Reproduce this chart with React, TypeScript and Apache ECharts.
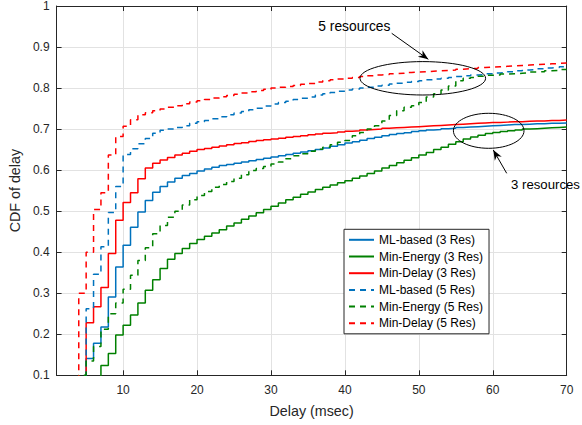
import React, { useEffect, useRef } from "react";
import * as echarts from "echarts";

const FONT = "'Liberation Sans', Arial, Helvetica, sans-serif";

// Delay values (msec), one CDF step per integer delay from 3 to 70
const delays: number[] = Array.from({ length: 68 }, (_, i) => i + 3);

const xTicks = [10, 20, 30, 40, 50, 60, 70];

const seriesNames = [
  "ML-based (3 Res)",
  "Min-Energy (3 Res)",
  "Min-Delay (3 Res)",
  "ML-based (5 Res)",
  "Min-Energy (5 Res)",
  "Min-Delay (5 Res)",
];

const mlBased3 = [
  0.05, 0.05, 0.141, 0.178, 0.218, 0.291, 0.364, 0.417, 0.461, 0.498,
  0.526, 0.546, 0.560, 0.571, 0.580, 0.587, 0.592, 0.598, 0.603, 0.607,
  0.611, 0.614, 0.617, 0.620, 0.623, 0.626, 0.629, 0.632, 0.635, 0.638,
  0.641, 0.644, 0.647, 0.650, 0.654, 0.658, 0.662, 0.666, 0.669, 0.673,
  0.677, 0.680, 0.684, 0.687, 0.689, 0.691, 0.694, 0.696, 0.698, 0.699,
  0.701, 0.702, 0.704, 0.705, 0.706, 0.707, 0.708, 0.709, 0.710, 0.711,
  0.711, 0.712, 0.713, 0.713, 0.714, 0.714, 0.715, 0.715,
];

const minEnergy3 = [
  0.05, 0.05, 0.05, 0.05, 0.124, 0.153, 0.198, 0.222, 0.247, 0.276,
  0.307, 0.333, 0.360, 0.383, 0.397, 0.409, 0.421, 0.431, 0.439, 0.447,
  0.455, 0.464, 0.471, 0.480, 0.488, 0.496, 0.504, 0.512, 0.520, 0.528,
  0.534, 0.541, 0.547, 0.553, 0.558, 0.564, 0.569, 0.574, 0.580, 0.586,
  0.592, 0.598, 0.605, 0.611, 0.618, 0.624, 0.630, 0.637, 0.643, 0.650,
  0.656, 0.663, 0.669, 0.676, 0.681, 0.685, 0.689, 0.692, 0.694, 0.696,
  0.698, 0.700, 0.701, 0.702, 0.703, 0.704, 0.705, 0.706,
];

const minDelay3 = [
  0.05, 0.05, 0.228, 0.267, 0.314, 0.397, 0.478, 0.521, 0.545, 0.579,
  0.605, 0.617, 0.625, 0.631, 0.637, 0.641, 0.646, 0.650, 0.653, 0.656,
  0.659, 0.662, 0.665, 0.667, 0.670, 0.672, 0.674, 0.676, 0.678, 0.680,
  0.682, 0.684, 0.686, 0.688, 0.690, 0.691, 0.693, 0.695, 0.696, 0.698,
  0.699, 0.700, 0.702, 0.703, 0.704, 0.705, 0.706, 0.707, 0.708, 0.709,
  0.710, 0.711, 0.712, 0.713, 0.714, 0.715, 0.716, 0.716, 0.717, 0.718,
  0.718, 0.719, 0.720, 0.720, 0.721, 0.721, 0.722, 0.722,
];

const mlBased5 = [
  0.05, 0.05, 0.262, 0.346, 0.413, 0.497, 0.560, 0.638, 0.652, 0.664,
  0.677, 0.690, 0.697, 0.700, 0.704, 0.708, 0.714, 0.718, 0.721, 0.725,
  0.730, 0.735, 0.739, 0.743, 0.747, 0.751, 0.756, 0.761, 0.765, 0.768,
  0.772, 0.775, 0.778, 0.783, 0.786, 0.789, 0.792, 0.795, 0.798, 0.800,
  0.802, 0.805, 0.807, 0.810, 0.812, 0.814, 0.816, 0.818, 0.820, 0.822,
  0.824, 0.826, 0.828, 0.830, 0.832, 0.833, 0.835, 0.837, 0.838, 0.840,
  0.842, 0.844, 0.845, 0.847, 0.849, 0.850, 0.852, 0.853,
];

const minEnergy5 = [
  0.05, 0.10, 0.135, 0.170, 0.212, 0.250, 0.276, 0.310, 0.344, 0.380,
  0.411, 0.445, 0.465, 0.485, 0.500, 0.515, 0.528, 0.538, 0.548, 0.558,
  0.565, 0.572, 0.580, 0.589, 0.599, 0.604, 0.609, 0.615, 0.620, 0.628,
  0.635, 0.640, 0.646, 0.651, 0.656, 0.662, 0.668, 0.672, 0.684, 0.692,
  0.700, 0.708, 0.720, 0.733, 0.745, 0.753, 0.757, 0.765, 0.778, 0.786,
  0.795, 0.805, 0.818, 0.824, 0.826, 0.829, 0.831, 0.832, 0.834, 0.835,
  0.836, 0.837, 0.839, 0.840, 0.842, 0.843, 0.845, 0.846,
];

const minDelay5 = [
  0.05, 0.30, 0.40, 0.504, 0.545, 0.637, 0.682, 0.707, 0.723, 0.735,
  0.740, 0.745, 0.749, 0.753, 0.757, 0.762, 0.766, 0.769, 0.772, 0.776,
  0.779, 0.782, 0.785, 0.788, 0.791, 0.794, 0.797, 0.800, 0.802, 0.804,
  0.806, 0.809, 0.811, 0.815, 0.818, 0.820, 0.822, 0.824, 0.826, 0.828,
  0.830, 0.832, 0.833, 0.835, 0.836, 0.838, 0.839, 0.840, 0.841, 0.842,
  0.843, 0.844, 0.846, 0.847, 0.848, 0.850, 0.851, 0.852, 0.853, 0.854,
  0.855, 0.856, 0.857, 0.858, 0.859, 0.860, 0.861, 0.862,
];

const seriesValues = [mlBased3, minEnergy3, minDelay3, mlBased5, minEnergy5, minDelay5];
const seriesColors = ["#0072BD", "#008000", "#FF0000", "#0072BD", "#008000", "#FF0000"];
const seriesDashed = [false, false, false, true, true, true];

function arrowHead(x1: number, y1: number, x2: number, y2: number, len = 10, half = 4) {
  const dx = x2 - x1;
  const dy = y2 - y1;
  const l = Math.sqrt(dx * dx + dy * dy);
  const ux = dx / l;
  const uy = dy / l;
  const nx = -uy;
  const ny = ux;
  const bx = x2 - len * ux;
  const by = y2 - len * uy;
  const mx = x2 - len * 0.7 * ux;
  const my = y2 - len * 0.7 * uy;
  return [
    [x2, y2],
    [bx + half * nx, by + half * ny],
    [mx, my],
    [bx - half * nx, by - half * ny],
  ];
}

export default function App() {
  const ref = useRef<HTMLDivElement>(null);

  useEffect(() => {
    if (!ref.current) return;
    const chart = echarts.init(ref.current, undefined, { renderer: "svg" });

    const axisColor = "#262626";
    const gridColor = "#e2e2e2";

    const series = seriesNames.map((name, k) => ({
      name,
      type: "line",
      step: "end",
      symbol: "none",
      showSymbol: false,
      silent: true,
      z: 2 + k,
      data: delays.map((d, i) => [d, seriesValues[k][i]]),
      lineStyle: {
        color: seriesColors[k],
        width: 1.5,
        type: seriesDashed[k] ? [6, 5] : "solid",
      },
      itemStyle: { color: seriesColors[k] },
    }));

    const a1 = { x1: 391.7, y1: 33.3, x2: 428.3, y2: 59.3 };
    const a2 = { x1: 506.7, y1: 173.3, x2: 493.3, y2: 150 };

    const option = {
      animation: false,
      backgroundColor: "#ffffff",
      textStyle: { fontFamily: FONT },
      grid: { left: 51.7, top: 5, width: 515, height: 370.3, containLabel: false },
      xAxis: [
        {
          type: "value",
          min: 1,
          max: 70,
          position: "bottom",
          name: "Delay (msec)",
          nameLocation: "middle",
          nameGap: 28.5,
          nameTextStyle: { fontSize: 14.3, color: axisColor, fontFamily: FONT },
          axisLine: { show: true, onZero: false, lineStyle: { color: axisColor, width: 1 } },
          axisTick: { show: true, inside: true, length: 5, customValues: xTicks, lineStyle: { color: axisColor } },
          axisLabel: { customValues: xTicks, margin: 9, fontSize: 12, color: axisColor, fontFamily: FONT },
          splitLine: { show: true, customValues: xTicks, lineStyle: { color: gridColor, width: 1 } },
        },
        {
          type: "value",
          min: 1,
          max: 70,
          position: "top",
          axisLine: { show: true, onZero: false, lineStyle: { color: axisColor, width: 1 } },
          axisTick: { show: true, inside: true, length: 5, customValues: xTicks, lineStyle: { color: axisColor } },
          axisLabel: { show: false },
          splitLine: { show: false },
        },
      ],
      yAxis: [
        {
          type: "value",
          min: 0.1,
          max: 1,
          interval: 0.1,
          position: "left",
          name: "CDF of delay",
          nameLocation: "middle",
          nameGap: 27,
          nameRotate: 90,
          nameTextStyle: { fontSize: 14.3, color: axisColor, fontFamily: FONT },
          axisLine: { show: true, onZero: false, lineStyle: { color: axisColor, width: 1 } },
          axisTick: { show: true, inside: true, length: 5, lineStyle: { color: axisColor } },
          axisLabel: { margin: 7, fontSize: 12, color: axisColor, fontFamily: FONT },
          splitLine: { show: true, lineStyle: { color: gridColor, width: 1 } },
        },
        {
          type: "value",
          min: 0.1,
          max: 1,
          interval: 0.1,
          position: "right",
          axisLine: { show: true, onZero: false, lineStyle: { color: axisColor, width: 1 } },
          axisTick: { show: true, inside: true, length: 5, lineStyle: { color: axisColor } },
          axisLabel: { show: false },
          splitLine: { show: false },
        },
      ],
      legend: {
        data: seriesNames,
        orient: "vertical",
        left: 344,
        top: 229.3,
        itemWidth: 25,
        itemHeight: 12,
        itemGap: 4.7,
        padding: [4.5, 6, 4.5, 4],
        borderColor: axisColor,
        borderWidth: 1,
        backgroundColor: "#ffffff",
        itemStyle: { opacity: 0 },
        textStyle: { fontSize: 12, color: "#000000", fontFamily: FONT },
      },
      series,
      graphic: [
        {
          type: "ellipse",
          z: 100,
          shape: { cx: 422.8, cy: 78.3, rx: 62.8, ry: 16.7 },
          style: { fill: "none", stroke: "#000", lineWidth: 1 },
        },
        {
          type: "ellipse",
          z: 100,
          shape: { cx: 488.7, cy: 130.8, rx: 35.3, ry: 17.5 },
          style: { fill: "none", stroke: "#000", lineWidth: 1 },
        },
        {
          type: "line",
          z: 100,
          shape: a1,
          style: { stroke: "#000", lineWidth: 1 },
        },
        {
          type: "polygon",
          z: 100,
          shape: { points: arrowHead(a1.x1, a1.y1, a1.x2, a1.y2) },
          style: { fill: "#000" },
        },
        {
          type: "line",
          z: 100,
          shape: a2,
          style: { stroke: "#000", lineWidth: 1 },
        },
        {
          type: "polygon",
          z: 100,
          shape: { points: arrowHead(a2.x1, a2.y1, a2.x2, a2.y2) },
          style: { fill: "#000" },
        },
        {
          type: "text",
          z: 100,
          x: 318.3,
          y: 26,
          style: {
            text: "5 resources",
            fontSize: 13.8,
            fontFamily: FONT,
            fill: "#000",
            align: "left",
            verticalAlign: "middle",
          },
        },
        {
          type: "text",
          z: 100,
          x: 511,
          y: 184,
          style: {
            text: "3 resources",
            fontSize: 13.2,
            fontFamily: FONT,
            fill: "#000",
            align: "left",
            verticalAlign: "middle",
          },
        },
      ],
    };

    chart.setOption(option as any);
    return () => chart.dispose();
  }, []);

  return (
    <div
      ref={ref}
      style={{ position: "absolute", left: 0, top: 0, width: 582, height: 425, background: "#fff" }}
    />
  );
}
